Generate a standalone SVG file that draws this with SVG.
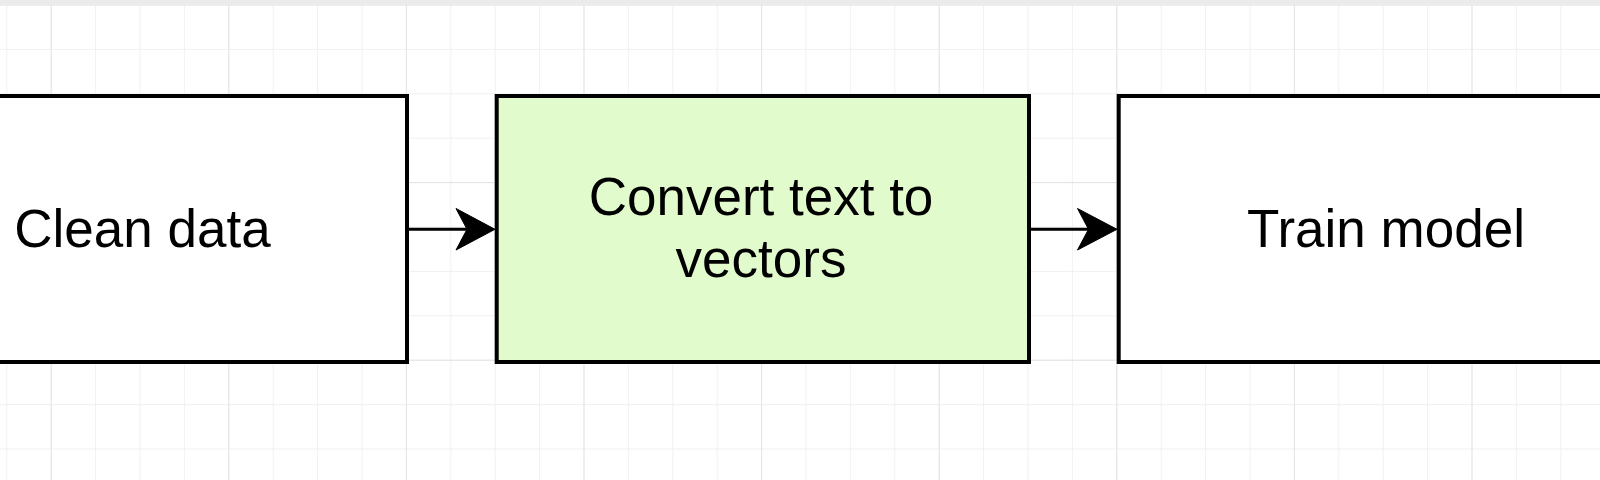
<svg xmlns="http://www.w3.org/2000/svg" width="1600" height="480" viewBox="0 0 1600 480">
  <defs>
    <pattern id="minor" patternUnits="userSpaceOnUse" x="50.7" y="4.5" width="44.4" height="44.4">
      <path d="M0 0 V44.4 M0 0 H44.4" fill="none" stroke="#f0f0f0" stroke-width="1.8"/>
    </pattern>
    <pattern id="major" patternUnits="userSpaceOnUse" x="50.7" y="4.5" width="177.6" height="177.6">
      <path d="M0 0 V177.6 M0 0 H177.6" fill="none" stroke="#e2e2e2" stroke-width="1.8"/>
    </pattern>
    <style>
      .box { stroke: #000; stroke-width: 4; }
      .plain { fill: #ffffff; }
      .green { fill: #e2fbcc; }
      .label { font-family: "Liberation Sans", Arial, Helvetica, sans-serif; font-size: 53px; fill: #000; text-anchor: middle; }
      .edge { stroke: #000; stroke-width: 3; fill: none; }
      .head { fill: #000; stroke: #000; stroke-width: 1; stroke-linejoin: miter; }
    </style>
  </defs>
  <rect x="0" y="0" width="1600" height="480" fill="#ffffff"/>
  <rect x="0" y="0" width="1600" height="480" fill="url(#minor)"/>
  <rect x="0" y="0" width="1600" height="480" fill="url(#major)"/>
  <rect x="0" y="0" width="1600" height="4.5" fill="#ebebeb"/>

  <g id="connectors">
    <path class="edge" d="M409 229.3 H470"/>
    <polygon class="head" points="495,229.3 456,208.5 467,229.3 456,250"/>
    <path class="edge" d="M1031 229.3 H1091"/>
    <polygon class="head" points="1117,229.3 1077.5,208.5 1088.5,229.3 1077.5,250"/>
  </g>

  <g id="clean-data">
    <rect class="box plain" x="-125" y="96" width="532" height="266"/>
    <text class="label" x="142.5" y="246.7">Clean data</text>
  </g>

  <g id="convert-text">
    <rect class="box green" x="496.7" y="96" width="532.3" height="266"/>
    <text class="label" x="761" y="215">Convert text to</text>
    <text class="label" x="761" y="276.7">vectors</text>
  </g>

  <g id="train-model">
    <rect class="box plain" x="1118.7" y="96" width="532" height="266"/>
    <text class="label" x="1386" y="246.7">Train model</text>
  </g>
</svg>
